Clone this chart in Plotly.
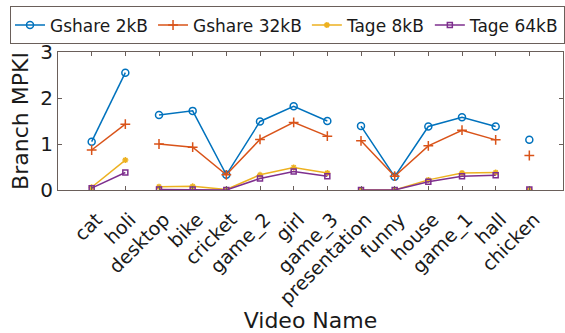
import plotly.graph_objects as go

videos = ["cat", "holi", "desktop", "bike", "cricket", "game_2", "girl", "game_3",
          "presentation", "funny", "house", "game_1", "hall", "chicken"]

gshare_2kb = [1.05, 2.55, 1.63, 1.72, 0.33, 1.49, 1.82, 1.50, 1.39, 0.29, 1.38, 1.58, 1.38, 1.09]
gshare_32kb = [0.87, 1.43, 1.00, 0.93, 0.33, 1.10, 1.47, 1.17, 1.07, 0.30, 0.96, 1.30, 1.09, 0.75]
tage_8kb = [0.06, 0.65, 0.07, 0.08, 0.01, 0.33, 0.49, 0.37, 0.00, 0.00, 0.22, 0.37, 0.38, 0.01]
tage_64kb = [0.04, 0.38, 0.01, 0.01, 0.00, 0.25, 0.40, 0.30, 0.00, 0.00, 0.18, 0.30, 0.32, 0.01]

# runs of consecutive videos that are joined by a line
groups = [(0, 2), (2, 8), (8, 13), (13, 14)]

series = [
    ("Gshare 2kB", gshare_2kb, "#0072BD", "circle-open", 7),
    ("Gshare 32kB", gshare_32kb, "#D95319", "cross-thin-open", 7),
    ("Tage 8kB", tage_8kb, "#EDB120", "asterisk-open", 5),
    ("Tage 64kB", tage_64kb, "#7E2F8E", "square-open", 5),
]

fig = go.Figure()
for name, vals, color, sym, size in series:
    for gi, (a, b) in enumerate(groups):
        fig.add_trace(go.Scatter(
            x=list(range(a, b)), y=vals[a:b],
            mode="lines+markers", name=name,
            legendgroup=name, showlegend=(gi == 0),
            line=dict(color=color, width=1.5),
            marker=dict(symbol=sym, size=size, color=color,
                        line=dict(color=color, width=1.5)),
        ))

axis_color = "#6a5f5a"
fig.update_layout(
    width=565, height=333,
    margin=dict(l=58, r=2, t=52, b=143),
    paper_bgcolor="white", plot_bgcolor="white",
    font=dict(family="DejaVu Sans", color="#1a1a1a"),
    showlegend=True,
    legend=dict(
        orientation="h", x=-0.062, xanchor="left", y=1.33, yanchor="top",
        font=dict(size=17), bordercolor=axis_color, borderwidth=1,
        itemwidth=30, tracegroupgap=0, bgcolor="white",
    ),
    xaxis=dict(
        range=[-1, 14], tickmode="array",
        tickvals=list(range(len(videos))), ticktext=videos,
        tickangle=-45, tickfont=dict(size=19),
        ticklabelstandoff=10, ticklabelshift=5,
        ticks="inside", ticklen=4, tickcolor=axis_color,
        showline=True, linecolor=axis_color, linewidth=1, mirror="ticks",
        showgrid=False, zeroline=False,
        title=dict(text="Video Name", font=dict(size=22), standoff=6),
    ),
    yaxis=dict(
        range=[0, 3], tickvals=[0, 1, 2, 3], tickfont=dict(size=20),
        ticks="inside", ticklen=4, tickcolor=axis_color,
        showline=True, linecolor=axis_color, linewidth=1, mirror="ticks",
        showgrid=False, zeroline=False,
        title=dict(text="Branch MPKI", font=dict(size=22), standoff=5),
    ),
)

fig.write_html("out.html")
